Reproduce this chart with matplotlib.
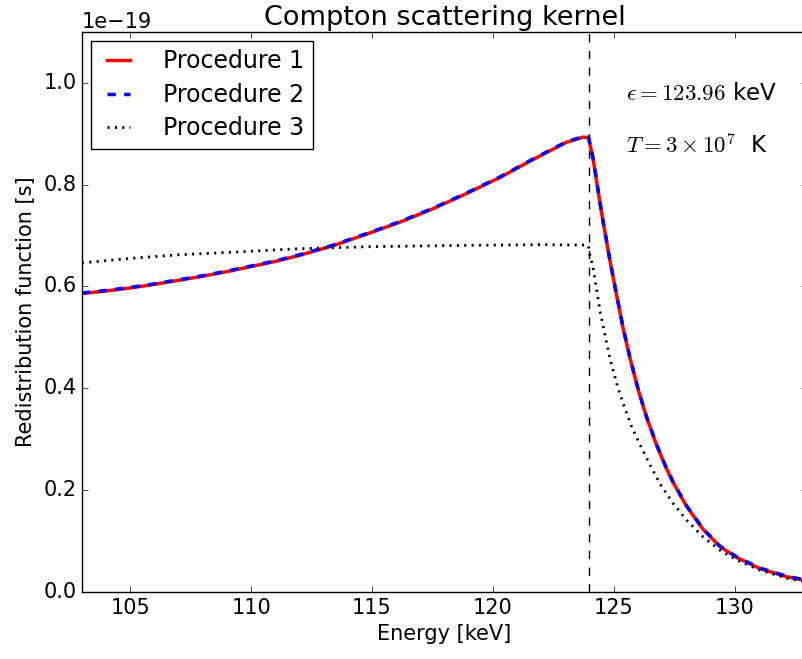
import matplotlib
matplotlib.use("Agg")
import matplotlib.pyplot as plt
import numpy as np

plt.style.use("classic")

# Energy grid [keV] and redistribution function (units of 1e-19 s)
energy_12 = [103.0, 104.0, 105.0, 106.0, 107.0, 108.0, 109.0, 110.0, 111.0, 112.0,
             113.4, 114.8, 116.15, 117.5, 118.9, 120.3, 121.7, 123.05, 123.74,
             123.96, 124.15, 124.43, 124.57, 124.84, 125.12, 125.39, 125.67,
             126.01, 126.36, 126.78, 127.16, 127.46, 128.02, 128.7, 129.4,
             130.09, 131.05, 132.16, 133.0]
proc1 = [0.586, 0.591, 0.597, 0.604, 0.612, 0.620, 0.629, 0.639, 0.649, 0.661,
         0.680, 0.703, 0.726, 0.752, 0.782, 0.814, 0.850, 0.883, 0.893,
         0.892, 0.850, 0.765, 0.725, 0.652, 0.583, 0.518, 0.460,
         0.398, 0.343, 0.288, 0.245, 0.215, 0.168, 0.123, 0.089,
         0.068, 0.046, 0.030, 0.022]
proc2 = [0.587, 0.592, 0.598, 0.605, 0.613, 0.621, 0.630, 0.640, 0.650, 0.662,
         0.681, 0.704, 0.727, 0.753, 0.783, 0.815, 0.851, 0.884, 0.894,
         0.893, 0.851, 0.766, 0.726, 0.653, 0.584, 0.519, 0.461,
         0.399, 0.344, 0.289, 0.246, 0.216, 0.169, 0.124, 0.090,
         0.069, 0.047, 0.031, 0.023]

energy_3 = [103.0, 105.0, 107.0, 110.0, 112.0, 115.0, 118.0, 120.0, 122.0, 123.8,
            123.96, 124.0, 124.15, 124.29, 124.43, 124.64, 124.84, 125.12, 125.39,
            125.74, 126.08, 126.5, 126.91, 127.46, 128.02, 128.7, 129.4, 130.09,
            131.05, 132.16, 133.0]
proc3 = [0.646, 0.655, 0.662, 0.669, 0.674, 0.678, 0.680, 0.681, 0.682, 0.681,
         0.680, 0.665, 0.637, 0.595, 0.553, 0.505, 0.460, 0.410, 0.370,
         0.325, 0.290, 0.250, 0.213, 0.174, 0.141, 0.108, 0.082, 0.063,
         0.043, 0.027, 0.020]

eps_keV = 123.96
scale = 1e-19

fig = plt.figure(figsize=(8.03, 6.59), dpi=100)
ax = fig.add_axes([82/803, 67/659, 725/803, 560.3/659])

ax.plot(energy_12, np.array(proc1) * scale, color="red", lw=2.5, ls="-", label="Procedure 1")
ax.plot(energy_12, np.array(proc2) * scale, color="blue", lw=2.5, ls="--", label="Procedure 2")
ax.plot(energy_3, np.array(proc3) * scale, color="black", lw=2, ls=(0, (1.5, 3.8)),
        label="Procedure 3")
ax.axvline(eps_keV, color="black", ls="--", lw=1)

ax.set_xlim(103, 133)
ax.set_ylim(0, 1.1e-19)
ax.set_xticks([105, 110, 115, 120, 125, 130])
ax.set_yticks(np.array([0.0, 0.2, 0.4, 0.6, 0.8, 1.0]) * scale)
ax.tick_params(labelsize=15)
ax.yaxis.get_offset_text().set_fontsize(15)

ax.set_xlabel("Energy [keV]", fontsize=15)
ax.set_ylabel("Redistribution function [s]", fontsize=15)
ax.set_title("Compton scattering kernel", fontsize=19.5)

ax.text(125.5, 0.965e-19, r"$\epsilon=123.96$ keV", fontsize=16.5, ha="left", va="baseline")
ax.text(125.5, 0.860e-19, r"$T=3\times10^7$  K", fontsize=16.5, ha="left", va="baseline")

leg = ax.legend(loc="upper left", fontsize=17, handlelength=1.6, handletextpad=1.1,
                borderpad=0.35, labelspacing=0.4, borderaxespad=0.4)

fig.savefig("out.png", dpi=100)
